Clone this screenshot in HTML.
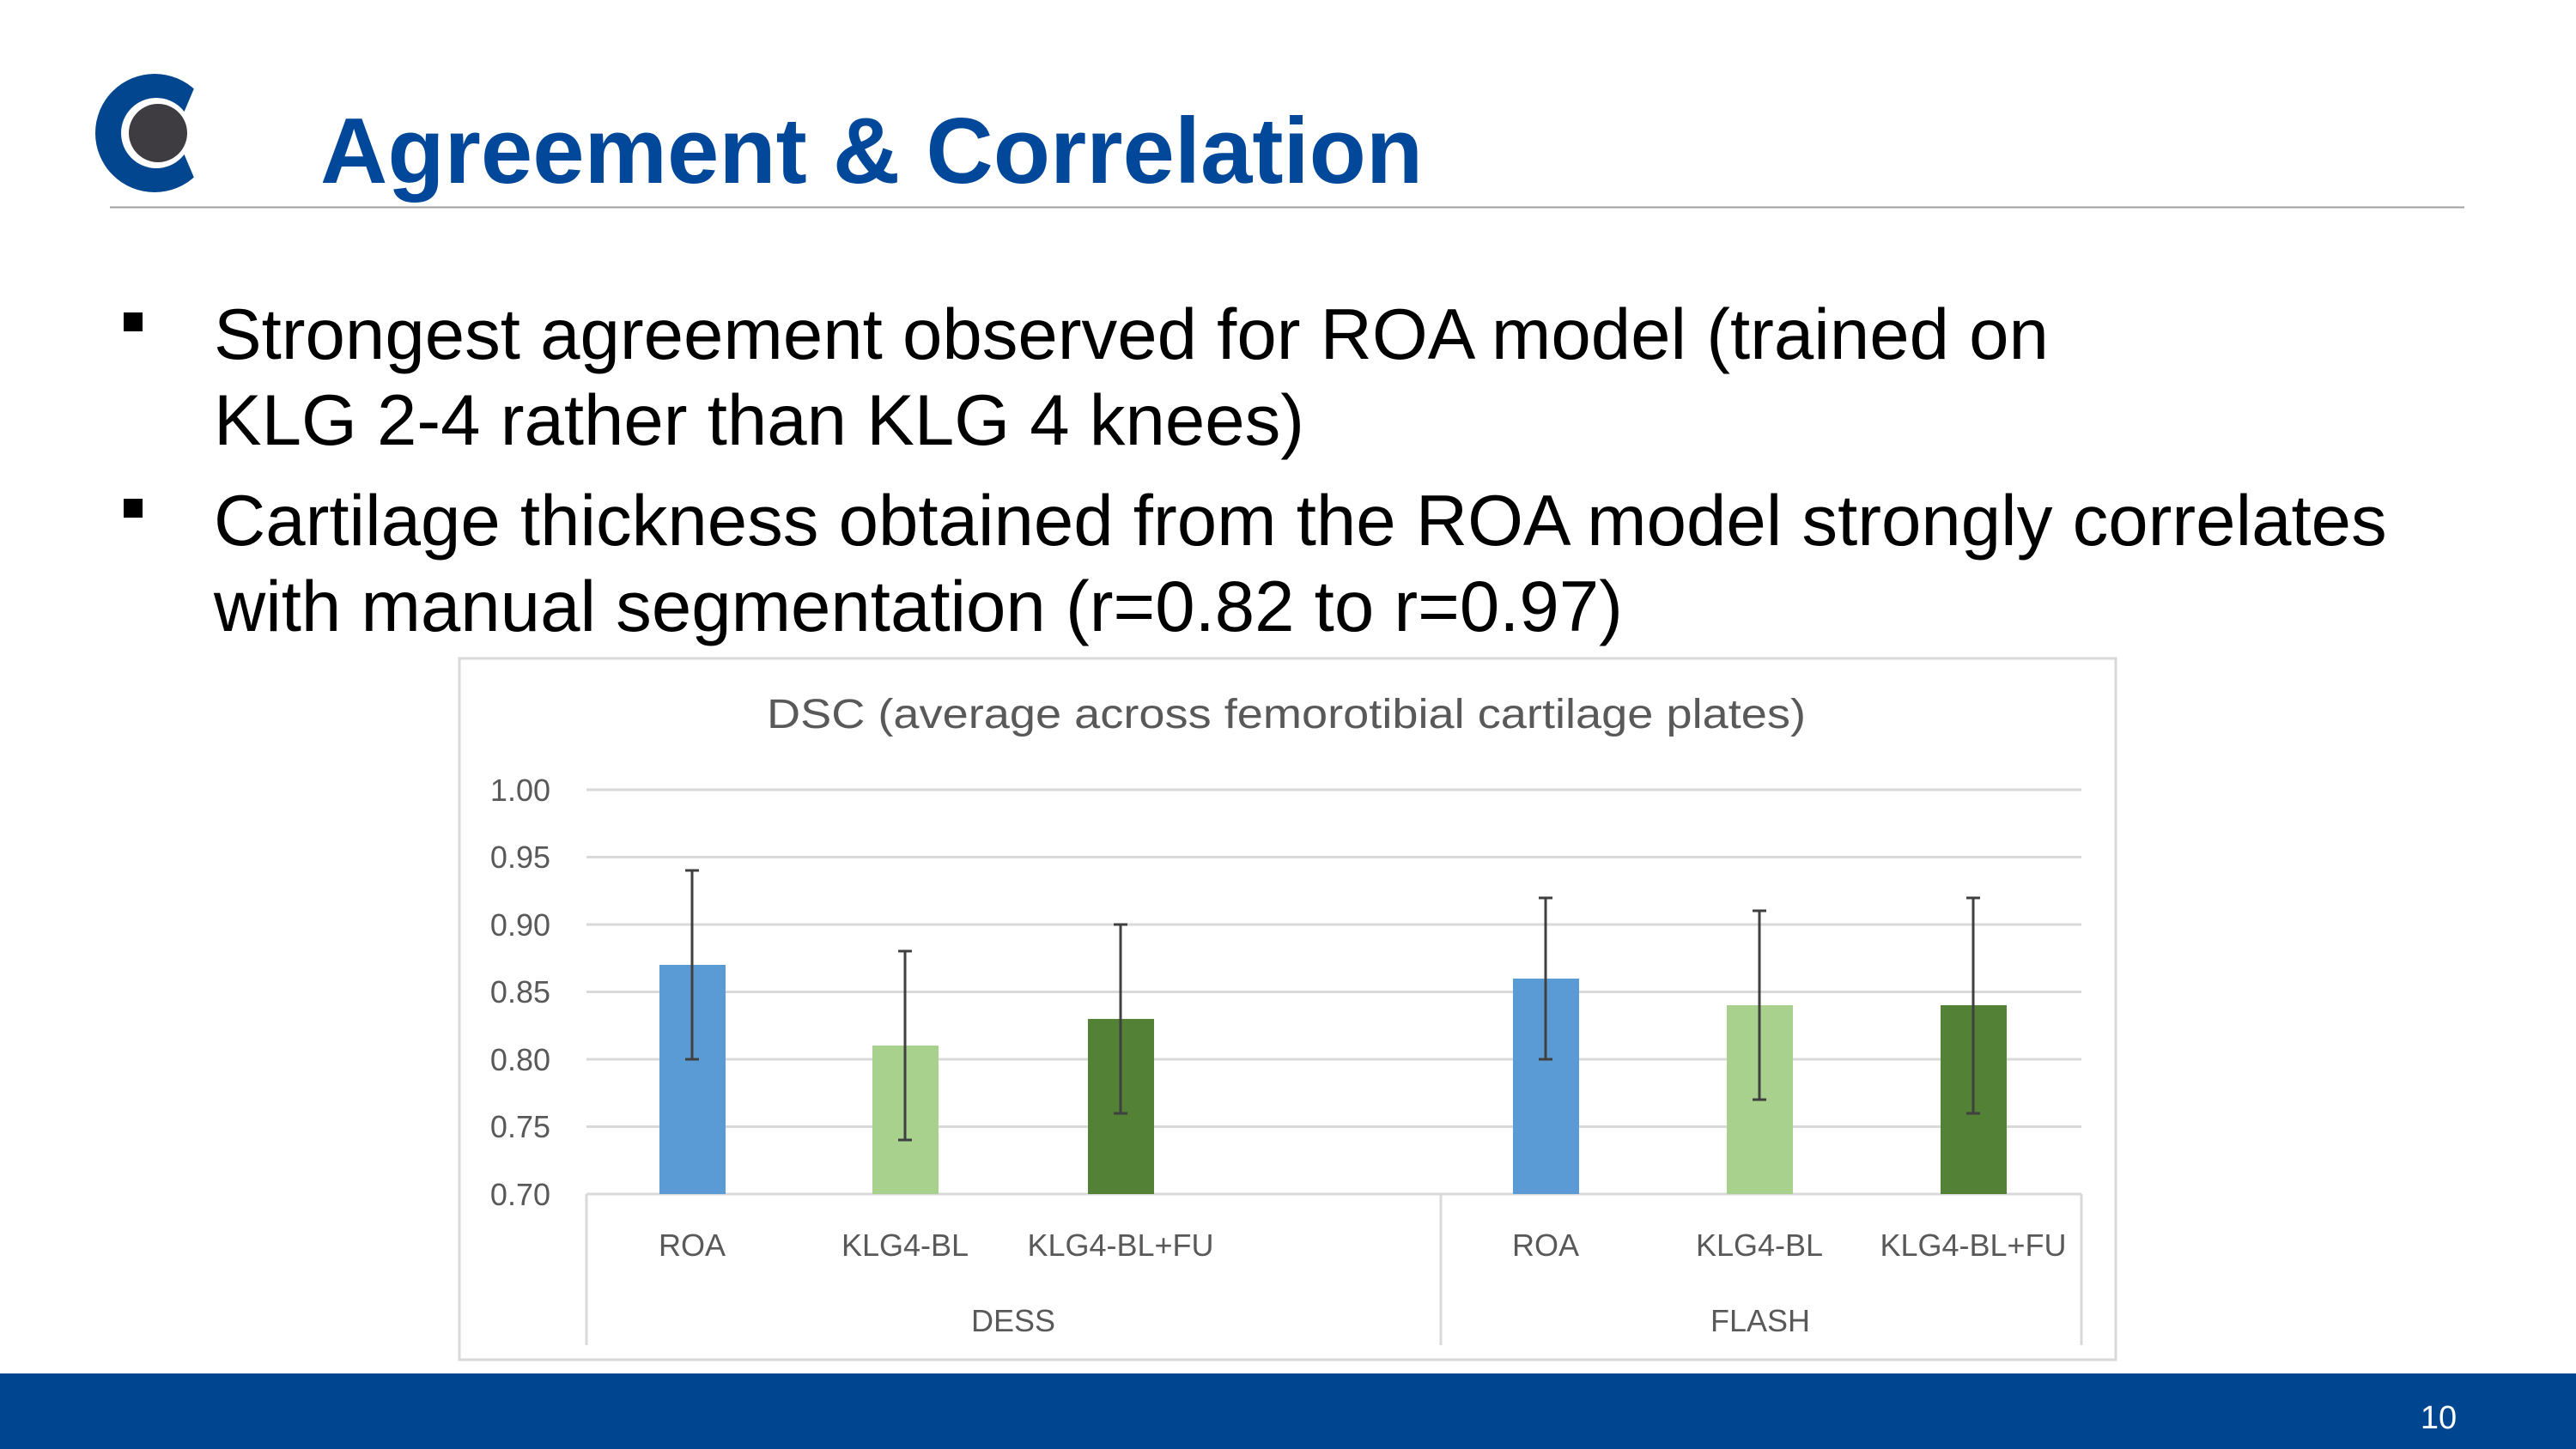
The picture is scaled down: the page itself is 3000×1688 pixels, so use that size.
<!DOCTYPE html>
<html><head><meta charset="utf-8"><style>
html,body{margin:0;padding:0;background:#fff;}
svg{display:block;}
</style></head><body>
<svg width="3000" height="1688" viewBox="0 0 3000 1688" xmlns="http://www.w3.org/2000/svg" font-family="Liberation Sans, sans-serif">
<rect width="3000" height="1688" fill="#fff"/>
<!-- logo -->
<circle cx="180" cy="155" r="69" fill="#02468f"/>
<polygon points="204,155 240,70 260,70 260,240 240,240" fill="#fff"/>
<circle cx="182" cy="155" r="41" fill="#fff"/>
<circle cx="184" cy="155" r="34" fill="#3e3c40"/>
<!-- title -->
<text x="373" y="213" font-size="108.5" font-weight="bold" fill="#02489a">Agreement &amp; Correlation</text>
<line x1="128" y1="241.5" x2="2870" y2="241.5" stroke="#a0a0a0" stroke-width="2"/>
<!-- bullets -->
<rect x="144" y="364" width="22" height="22" fill="#000"/>
<rect x="144" y="581" width="22" height="22" fill="#000"/>
<g font-size="83.4" fill="#000">
<text x="249" y="418">Strongest agreement observed for ROA model (trained on</text>
<text x="249" y="518">KLG 2-4 rather than KLG 4 knees)</text>
<text x="249" y="635">Cartilage thickness obtained from the ROA model strongly correlates</text>
<text x="249" y="735">with manual segmentation (r=0.82 to r=0.97)</text>
</g>
<!-- chart box -->
<rect x="535" y="767" width="1929" height="817" fill="#fff" stroke="#d9d9d9" stroke-width="3"/>
<text x="1498" y="848" font-size="48" fill="#595959" text-anchor="middle" textLength="1210" lengthAdjust="spacingAndGlyphs">DSC (average across femorotibial cartilage plates)</text>
<!-- grid -->
<g stroke="#d9d9d9" stroke-width="3">
<line x1="683" y1="920" x2="2424" y2="920"/>
<line x1="683" y1="998.5" x2="2424" y2="998.5"/>
<line x1="683" y1="1077" x2="2424" y2="1077"/>
<line x1="683" y1="1155.5" x2="2424" y2="1155.5"/>
<line x1="683" y1="1234" x2="2424" y2="1234"/>
<line x1="683" y1="1312.5" x2="2424" y2="1312.5"/>
<line x1="683" y1="1391" x2="2424" y2="1391"/>
<line x1="683" y1="1391" x2="683" y2="1567"/>
<line x1="1678" y1="1391" x2="1678" y2="1567"/>
<line x1="2424" y1="1391" x2="2424" y2="1567"/>
</g>
<g font-size="36" fill="#595959" text-anchor="end">
<text x="641" y="933">1.00</text>
<text x="641" y="1011">0.95</text>
<text x="641" y="1090">0.90</text>
<text x="641" y="1168">0.85</text>
<text x="641" y="1247">0.80</text>
<text x="641" y="1325">0.75</text>
<text x="641" y="1404">0.70</text>
</g>
<!-- bars -->
<rect x="768" y="1124" width="77" height="267" fill="#5b9bd5"/>
<rect x="1016" y="1218" width="77" height="173" fill="#a9d18e"/>
<rect x="1267" y="1187" width="77" height="204" fill="#538135"/>
<rect x="1762" y="1140" width="77" height="251" fill="#5b9bd5"/>
<rect x="2011" y="1171" width="77" height="220" fill="#a9d18e"/>
<rect x="2260" y="1171" width="77" height="220" fill="#538135"/>
<!-- error bars -->
<g stroke="#404040" stroke-width="3">
<line x1="806" y1="1014" x2="806" y2="1234"/><line x1="798" y1="1014" x2="814" y2="1014"/><line x1="798" y1="1234" x2="814" y2="1234"/>
<line x1="1054" y1="1108" x2="1054" y2="1328"/><line x1="1046" y1="1108" x2="1062" y2="1108"/><line x1="1046" y1="1328" x2="1062" y2="1328"/>
<line x1="1305" y1="1077" x2="1305" y2="1297"/><line x1="1297" y1="1077" x2="1313" y2="1077"/><line x1="1297" y1="1297" x2="1313" y2="1297"/>
<line x1="1800" y1="1046" x2="1800" y2="1234"/><line x1="1792" y1="1046" x2="1808" y2="1046"/><line x1="1792" y1="1234" x2="1808" y2="1234"/>
<line x1="2049" y1="1061" x2="2049" y2="1281"/><line x1="2041" y1="1061" x2="2057" y2="1061"/><line x1="2041" y1="1281" x2="2057" y2="1281"/>
<line x1="2298" y1="1046" x2="2298" y2="1297"/><line x1="2290" y1="1046" x2="2306" y2="1046"/><line x1="2290" y1="1297" x2="2306" y2="1297"/>
</g>
<g font-size="36" fill="#595959" text-anchor="middle">
<text x="806" y="1463">ROA</text>
<text x="1054" y="1463">KLG4-BL</text>
<text x="1305" y="1463">KLG4-BL+FU</text>
<text x="1800" y="1463">ROA</text>
<text x="2049" y="1463">KLG4-BL</text>
<text x="2298" y="1463">KLG4-BL+FU</text>
<text x="1180" y="1551">DESS</text>
<text x="2050" y="1551">FLASH</text>
</g>
<!-- footer -->
<rect x="0" y="1600" width="3000" height="88" fill="#00458f"/>
<text x="2840" y="1664" font-size="38" fill="#fff" text-anchor="middle">10</text>
</svg>
</body></html>
